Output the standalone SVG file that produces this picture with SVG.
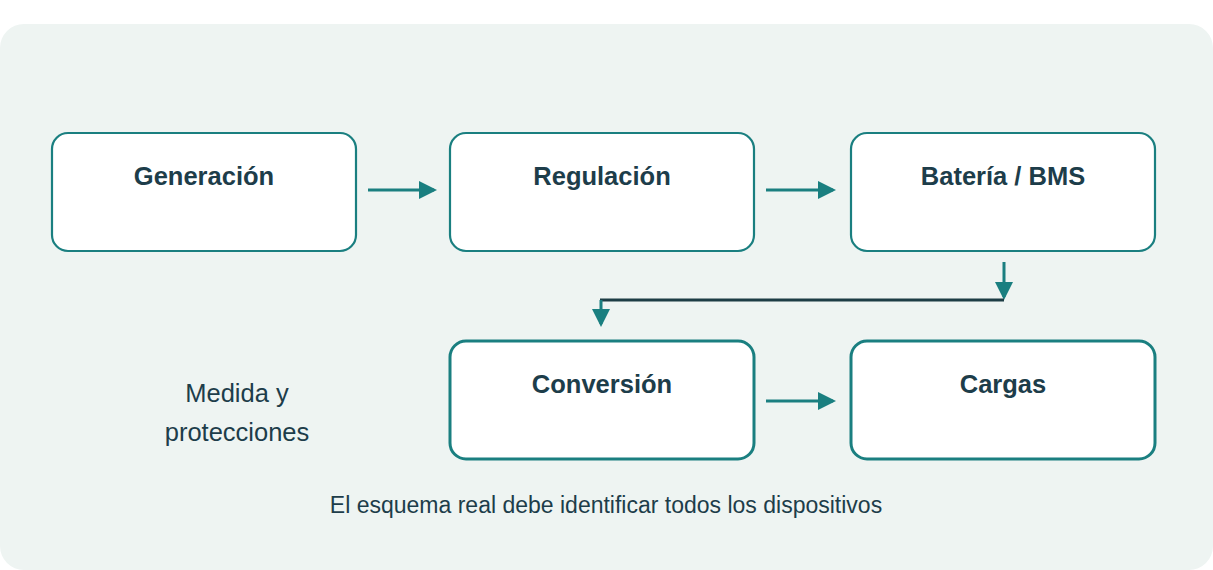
<svg xmlns="http://www.w3.org/2000/svg" width="1213" height="570" viewBox="0 0 1213 570">
<style>
.n{fill:#fff;stroke:#1a7f80;stroke-width:2.2}
.n2{fill:#fff;stroke:#1a7f80;stroke-width:3}
.t{font-family:"Liberation Sans",Arial,sans-serif;font-weight:bold;font-size:25.5px;fill:#1d3d4a;text-anchor:middle}
.r{font-family:"Liberation Sans",Arial,sans-serif;font-size:25.5px;fill:#1d3d4a;text-anchor:middle}
.c{stroke:#1a7f80;stroke-width:3;fill:none}
</style>
<defs><marker id="a" markerWidth="6" markerHeight="6" refX="5" refY="3" orient="auto" markerUnits="strokeWidth"><path d="M0,0L6,3L0,6Z" fill="#1a7f80"/></marker></defs>
<rect x="0" y="24" width="1213" height="546" rx="24" fill="#eef4f2"/>
<g id="generacion"><rect class="n" x="52" y="133" width="304" height="118" rx="16"/><text class="t" x="204" y="185">Generación</text></g>
<g id="regulacion"><rect class="n" x="450" y="133" width="304" height="118" rx="16"/><text class="t" x="602" y="185">Regulación</text></g>
<g id="bateria"><rect class="n" x="851" y="133" width="304" height="118" rx="16"/><text class="t" x="1003" y="185">Batería / BMS</text></g>
<g id="conversion"><rect class="n2" x="450" y="341" width="304" height="118" rx="16"/><text class="t" x="602" y="393">Conversión</text></g>
<g id="cargas"><rect class="n2" x="851" y="341" width="304" height="118" rx="16"/><text class="t" x="1003" y="393">Cargas</text></g>
<g id="medida"><text class="r" x="237" y="402">Medida y</text><text class="r" x="237" y="441">protecciones</text></g>
<g id="nota"><text class="r" x="606" y="513" style="font-size:23px">El esquema real debe identificar todos los dispositivos</text></g>
<g id="connectors">
<path class="c" d="M368,190H434" marker-end="url(#a)"/>
<path class="c" d="M766,190H833" marker-end="url(#a)"/>
<path class="c" d="M1004,262V297" marker-end="url(#a)"/>
<path d="M1004,300H600" stroke="#1d3d45" stroke-width="3" fill="none"/>
<path class="c" d="M601,300V324" marker-end="url(#a)"/>
<path class="c" d="M766,401H833" marker-end="url(#a)"/>
</g>
</svg>
